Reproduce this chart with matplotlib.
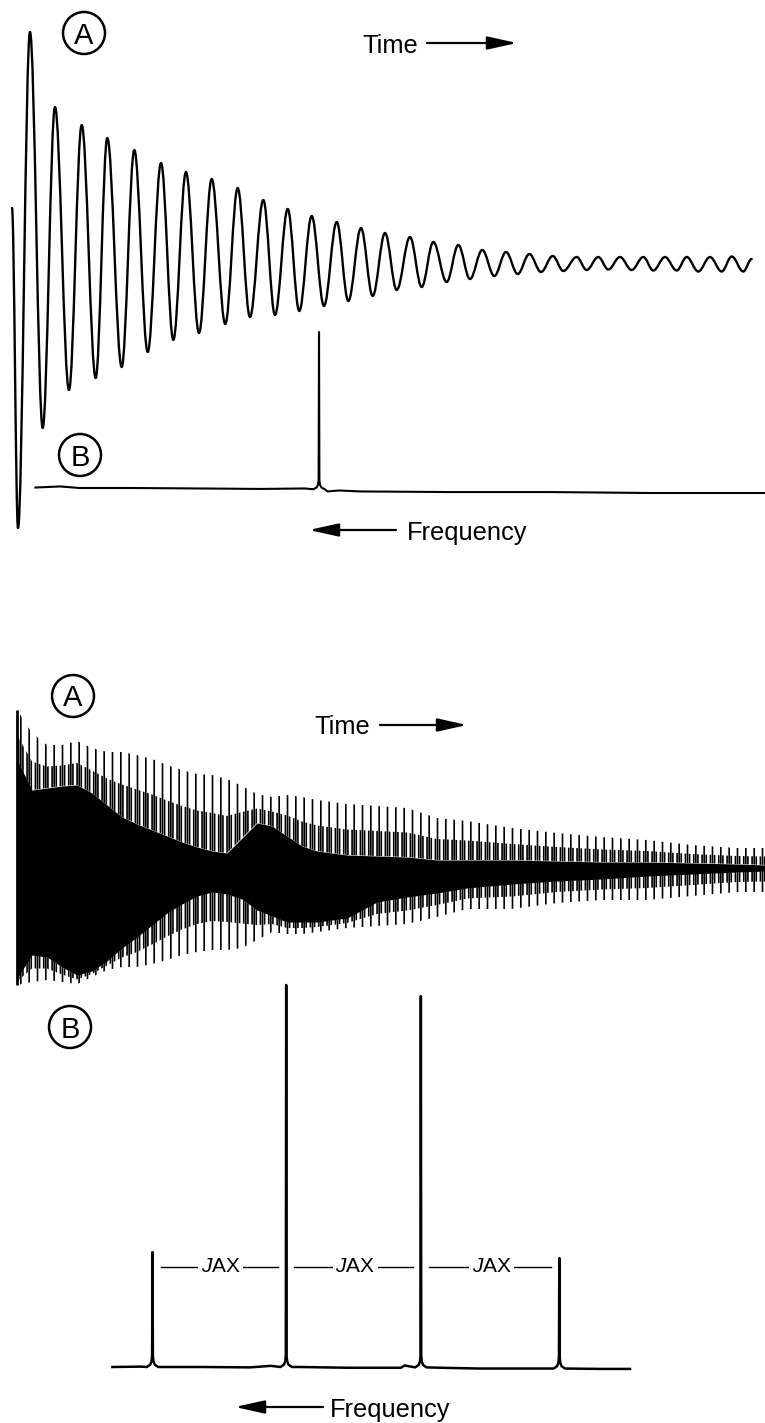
"""Free induction decays and their spectra: a single line and an AX quartet."""

import matplotlib

matplotlib.use("Agg")
import matplotlib.pyplot as plt
import numpy as np
from matplotlib.patches import Circle, PathPatch
from matplotlib.path import Path

W, H = 765, 1423

# single-line FID: alternating extrema, time (ms) and amplitude (arb.)
fid1_t = [0.0, 0.81, 2.43, 4.15, 5.81, 7.70, 9.42, 11.31, 12.88, 14.82,
          16.53, 18.34, 20.14, 21.80, 23.51, 25.27, 26.99, 28.82, 30.50, 32.16,
          33.96, 35.54, 37.26, 38.82, 40.50, 42.16, 43.88, 45.45, 47.16, 48.74,
          50.41, 51.99, 53.78, 55.36, 56.93, 58.74, 60.31, 61.89, 63.55, 65.18,
          66.76, 68.34, 69.91, 71.49, 73.07, 74.50, 76.31, 77.66, 79.23, 80.58,
          82.16, 83.74, 85.31, 86.66, 88.24, 89.82, 91.18, 92.74, 94.32, 95.91,
          97.26, 98.82, 99.96]
fid1_a = [22.4, -105.6, 92.8, -65.6, 62.8, -50.4, 55.6, -45.6, 50.4, -41.2,
          45.6, -35.2, 40.4, -30.4, 36.8, -27.6, 34.0, -24.0, 30.4, -21.2,
          25.6, -20.4, 22.0, -18.8, 19.2, -16.8, 16.8, -14.8, 14.4, -12.8,
          12.4, -10.4, 10.8, -9.2, 8.8, -7.2, 7.6, -6.0, 5.6, -4.8,
          4.8, -4.0, 4.0, -3.2, 3.2, -2.8, 2.8, -2.4, 2.8, -2.2,
          2.8, -2.4, 2.8, -2.6, 2.8, -2.6, 2.8, -3.0, 2.8, -3.0,
          3.0, -3.0, 2.0]

# single-line spectrum (frequency in Hz, intensity in %)
spec1_base_f = [38.2, 36.9, 35.9, 33.2, 29.6, 26.4, 24.1, 22.9, 22.3, 21.2,
                16.5, 11.3, 6.0, 0.0]
spec1_base_i = [0.3, 1.0, 0.0, 0.0, -0.3, -0.6, -0.3, -2.2, -1.6, -2.2,
                -2.6, -2.6, -3.2, -3.2]
spec1_peak_f = [23.35]
spec1_peak_i = [100.0]
spec1_peak_foot = [-0.8]

# AX FID: envelopes of the spikes and of the solid core
fid2_t = [0, 2, 4, 6, 8, 10, 12, 14, 16, 18, 20, 22, 24, 26, 28, 30, 32, 34,
          36, 38, 40, 44, 48, 52, 56, 60, 66, 72, 78, 84, 90, 96, 100]
fid2_upper = [78, 66.5, 60.5, 60.5, 62.5, 59, 57, 57, 55.5, 53.5, 50.5, 48,
              46, 45.5, 43.5, 40, 36, 34.5, 35.5, 34.5, 33, 31, 30, 29, 24,
              22.5, 19, 16.5, 14.5, 13, 10.5, 9, 9]
fid2_core_top = [53, 38, 39, 40, 40.5, 36.5, 30.5, 24.5, 21, 18, 15, 12, 9.5,
                 7.5, 6.5, 14, 21.5, 20, 15, 10, 7.5, 5.5, 5, 4.5, 3, 3, 3,
                 2.5, 2, 2, 1.5, 1, 0.5]
fid2_core_bottom = [-56, -44.5, -45.5, -50.5, -54.5, -52.5, -47.5, -41, -35.5,
                    -29.5, -23.5, -19, -15, -13, -14, -16.5, -22, -25, -28,
                    -28, -28, -26, -18, -15.5, -13.5, -11, -9, -7.5, -6.5, -5,
                    -4, -3, -2.5]
fid2_lower = [-59.5, -58, -57, -58, -59, -55.5, -52, -50.5, -50.5, -49, -47,
              -44.5, -43, -42, -42, -41, -37, -33, -34, -34, -33, -31, -30,
              -29, -25.5, -21.5, -21.5, -18.5, -17, -17, -15, -13, -13]

# AX spectrum
spec2_base_f = [27.1, 25.6, 22.5, 19.9, 18.8, 17.3, 14.7, 12.0, 11.8, 9.9,
                7.9, 5.8, 1.6, 0.0]
spec2_base_i = [0.0, 0.1, 0.0, -0.1, 0.3, 0.0, -0.2, -0.2, 0.4, -0.2,
                -0.4, -0.4, -0.5, -0.5]
spec2_peak_f = [25.0, 18.0, 10.95, 3.7]
spec2_peak_i = [30.1, 100.0, 97.1, 28.5]
spec2_peak_foot = [0.0, 0.0, -0.1, -0.4]
j_label = r"$\mathit{J}\mathrm{AX}$"
j_level = 26.2

plt.rcParams["font.family"] = ["Liberation Sans", "DejaVu Sans"]
plt.rcParams["mathtext.fontset"] = "custom"
plt.rcParams["mathtext.rm"] = "Liberation Sans"
plt.rcParams["mathtext.it"] = "Liberation Sans:italic"
plt.rcParams["hatch.linewidth"] = 1.2

fig = plt.figure(figsize=(W / 100, H / 100), dpi=100)


def overlay(x0, sx, y0, sy):
    # full-figure axes: value v sits at pixel x0 + sx*v, amplitude a at y0 - sy*a
    ax = fig.add_axes([0, 0, 1, 1])
    ax.set_xlim(-x0 / sx, (W - x0) / sx)
    ax.set_ylim((y0 - H) / sy, y0 / sy)
    ax.axis("off")
    ax.patch.set_alpha(0)
    return ax


def smooth_trace(t, a, k=0.364):
    verts = [(t[0], a[0])]
    codes = [Path.MOVETO]
    for i in range(len(t) - 1):
        dt = t[i + 1] - t[i]
        verts += [(t[i] + k * dt, a[i]), (t[i + 1] - k * dt, a[i + 1]),
                  (t[i + 1], a[i + 1])]
        codes += [Path.CURVE4] * 3
    return Path(verts, codes)


FOOT_OFFSETS = (0.30, 0.12, 0.05, 0.02)
FOOT_LIFT = (0.0, 0.4, 1.0, 2.0)


def spectrum_points(base_f, base_i, peak_f, peak_i, peak_foot, lift):
    pts = list(zip(base_f, base_i))
    for f0, top, foot in zip(peak_f, peak_i, peak_foot):
        for off, up in zip(FOOT_OFFSETS, FOOT_LIFT):
            pts.append((f0 + off, foot + up * lift))
            pts.append((f0 - off, foot + up * lift))
        pts.append((f0, top))
    pts.sort(key=lambda p: p[0])
    return np.array(pts).T


# single-line FID
ax1 = overlay(12, 7.4, 264, 2.5)
ax1.add_patch(PathPatch(smooth_trace(fid1_t, fid1_a), fill=False, lw=1.7,
                        edgecolor="black", joinstyle="round", capstyle="round"))

# single-line spectrum, frequency increasing to the left
ax2 = overlay(765, -19.1, 488, 1.56)
f, i = spectrum_points(spec1_base_f, spec1_base_i, spec1_peak_f, spec1_peak_i,
                       spec1_peak_foot, 3.0)
ax2.plot(f, i, color="black", lw=1.5, solid_joinstyle="round")

# AX FID: solid core, a dense band of short spikes, then the tall comb
ax3 = overlay(17, 7.5, 866, 2.0)
up = np.asarray(fid2_upper, float)
lo = np.asarray(fid2_lower, float)
ct = np.asarray(fid2_core_top, float)
cb = np.asarray(fid2_core_bottom, float)
ax3.fill_between(fid2_t, cb, ct, color="black", lw=0)
ax3.fill_between(fid2_t, ct, up, facecolor="none", edgecolor="black",
                 hatch="||", lw=0)
ax3.fill_between(fid2_t, lo, cb, facecolor="none", edgecolor="black",
                 hatch="||", lw=0)
ax3.fill_between(fid2_t, ct, (ct + up) / 2, facecolor="none",
                 edgecolor="black", hatch="||||", lw=0)
ax3.fill_between(fid2_t, (cb + lo) / 2, cb, facecolor="none",
                 edgecolor="black", hatch="||||", lw=0)
ax3.vlines(fid2_t[0], fid2_lower[0], fid2_upper[0], color="black", lw=2.0)

# AX spectrum
ax4 = overlay(630, -19.1, 1367, 3.82)
f, i = spectrum_points(spec2_base_f, spec2_base_i, spec2_peak_f, spec2_peak_i,
                       spec2_peak_foot, 1.5)
ax4.plot(f, i, color="black", lw=1.8, solid_joinstyle="round")
gap = 8 / 19.1
for fa, fb in zip(spec2_peak_f[:-1], spec2_peak_f[1:]):
    ax4.plot([fa - gap, fb + gap], [j_level, j_level], color="black", lw=1.0)
    ax4.text((fa + fb) / 2 - 0.08, j_level, j_label, ha="center", va="center",
             fontsize=15,
             bbox=dict(boxstyle="square,pad=0.12", fc="white", ec="none"))

# circled panel letters, axis captions and arrows (pixel layout)
lab = fig.add_axes([0, 0, 1, 1])
lab.set_xlim(0, W)
lab.set_ylim(H, 0)
lab.axis("off")
lab.patch.set_alpha(0)

for letter, cx, cy in [("A", 84, 33), ("B", 80, 455), ("A", 73, 696), ("B", 70, 1027)]:
    lab.add_patch(Circle((cx, cy), 21, fill=False, lw=1.8, edgecolor="black"))
    lab.text(cx, cy + 10.5, letter, ha="center", va="baseline", fontsize=21)

arrow = dict(arrowstyle="-|>,head_length=0.9,head_width=0.2", mutation_scale=20,
             lw=1.6, color="black", shrinkA=0, shrinkB=0)
for x_text, y_base, x0, x1, y_arrow in [(418, 53, 427, 517, 43), (370, 734, 380, 467, 725)]:
    lab.text(x_text, y_base, "Time", ha="right", va="baseline", fontsize=18.3)
    lab.annotate("", xy=(x1, y_arrow), xytext=(x0, y_arrow), arrowprops=arrow)
for x_text, y_base, x0, x1, y_arrow in [(407, 540, 396, 309, 530), (330, 1417, 323, 235, 1407)]:
    lab.text(x_text, y_base, "Frequency", ha="left", va="baseline", fontsize=18.3)
    lab.annotate("", xy=(x1, y_arrow), xytext=(x0, y_arrow), arrowprops=arrow)

fig.savefig("out.png", dpi=100, facecolor="white")
